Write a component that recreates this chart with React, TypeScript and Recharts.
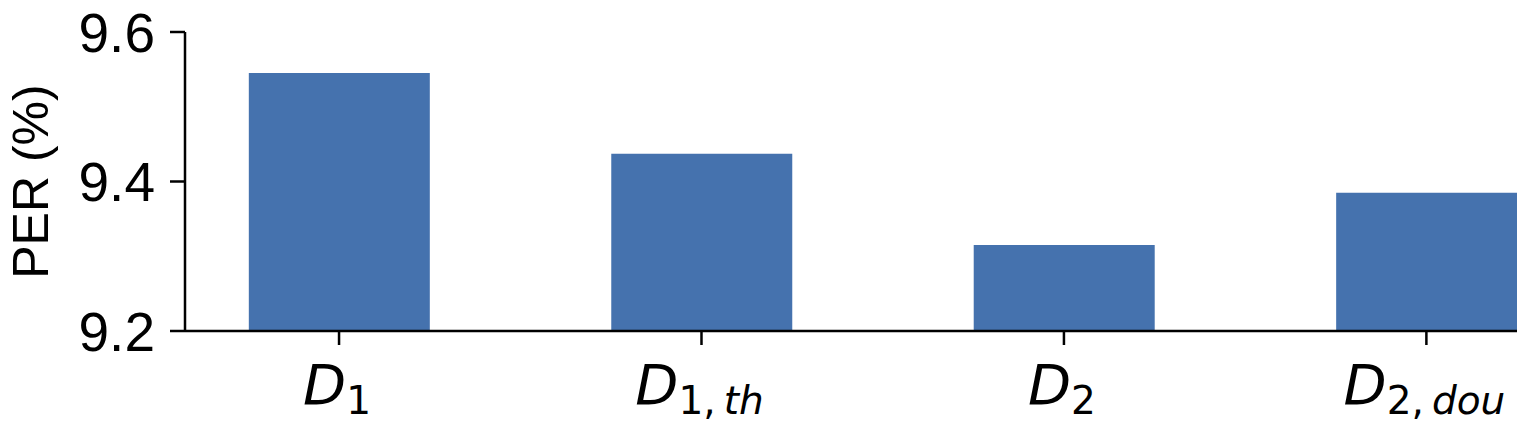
import { BarChart, Bar, XAxis, YAxis } from "recharts"

const categories = ["D1", "D1,th", "D2", "D2,dou"]
const perValues = [9.545, 9.437, 9.315, 9.385]
const yTicks = [9.2, 9.4, 9.6]

// label pieces: main symbol, upright subscript, italic part of subscript
const labelParts: [string, string, string][] = [
  ["D", "1", ""],
  ["D", "1,", "th"],
  ["D", "2", ""],
  ["D", "2,", "dou"],
]

const data = categories.map((name, i) => ({ x: i, name, per: perValues[i] }))

const XTick = (props: any) => {
  const { x, y, payload } = props
  const parts = labelParts[payload.value] || ["", "", ""]
  return (
    <g transform={`translate(${x},${y})`}>
      <text x={-2} y={57} textAnchor="middle" fill="#000" fontFamily="DejaVu Sans" fontSize={56}>
        <tspan fontStyle="italic">{parts[0]}</tspan>
        <tspan fontSize={39} dy={10}>{parts[1]}</tspan>
        {parts[2] && (
          <tspan fontSize={39} fontStyle="italic" dx={8}>{parts[2]}</tspan>
        )}
      </text>
    </g>
  )
}

const YLabel = (props: any) => {
  const { viewBox } = props
  const cy = viewBox.y + viewBox.height / 2
  return (
    <text
      x={31}
      y={cy}
      transform={`rotate(-90, 31, ${cy})`}
      textAnchor="middle"
      dominantBaseline="central"
      fontFamily="Liberation Sans, Arial, sans-serif"
      fontSize={50}
      fill="#000"
    >
      PER (%)
    </text>
  )
}

export default function App() {
  return (
    <div style={{ position: "absolute", left: 0, top: 0, width: 1537, height: 427, background: "#fff", overflow: "hidden" }}>
      <BarChart width={1537} height={427} data={data} margin={{ top: 32, right: 20, left: 0, bottom: 0 }}>
        <XAxis
          dataKey="x"
          type="number"
          domain={[-0.425, 3.25]}
          ticks={[0, 1, 2, 3]}
          allowDataOverflow
          height={96}
          tick={<XTick />}
          tickSize={14}
          tickMargin={2}
          axisLine={{ stroke: "#000", strokeWidth: 2.5 }}
          tickLine={{ stroke: "#000", strokeWidth: 2.5 }}
          interval={0}
        />
        <YAxis
          type="number"
          domain={[9.2, 9.6]}
          ticks={yTicks}
          allowDataOverflow
          width={185}
          tickFormatter={(v: number) => v.toFixed(1)}
          tick={{ fill: "#000", fontSize: 55, fontFamily: "Liberation Sans, Arial, sans-serif" }}
          tickSize={15}
          tickMargin={15}
          axisLine={{ stroke: "#000", strokeWidth: 2.5 }}
          tickLine={{ stroke: "#000", strokeWidth: 2.5 }}
          label={<YLabel />}
        />
        <Bar dataKey="per" fill="#4572ae" barSize={181} isAnimationActive={false} />
      </BarChart>
    </div>
  )
}
